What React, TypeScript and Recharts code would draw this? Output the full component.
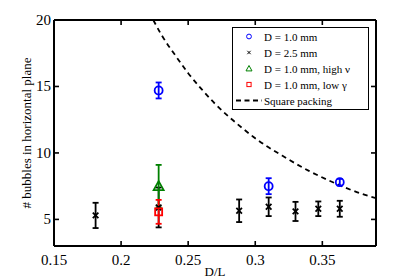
import { ComposedChart, Scatter, Line, XAxis, YAxis, ErrorBar, Legend } from 'recharts'

// D/L positions, bubble counts and their error bars
const blueX = [0.228, 0.31, 0.363]
const blueY = [14.7, 7.5, 7.8]
const blueErr = [0.6, 0.6, 0.25]

const blackX = [0.181, 0.228, 0.288, 0.31, 0.33, 0.347, 0.363]
const blackY = [5.3, 5.9, 5.65, 5.95, 5.6, 5.8, 5.8]
const blackErr = [0.95, 1.5, 0.85, 0.7, 0.72, 0.55, 0.6]

const greenX = [0.228]
const greenY = [7.5]
const greenErr = [1.6]

const redX = [0.228]
const redY = [5.57]
const redErr = [0.9]

// square packing curve
const packX = [0.224, 0.23, 0.24, 0.25, 0.26, 0.27, 0.28, 0.29, 0.3, 0.32, 0.34, 0.36, 0.38, 0.39]
const packY = [20, 18.9, 17.4, 16, 14.8, 13.7, 12.75, 11.9, 11.1, 9.8, 8.65, 7.7, 6.9, 6.6]

const xTicks = [0.15, 0.2, 0.25, 0.3, 0.35]
const yTicks = [5, 10, 15, 20]
const legendNames = ['D = 1.0 mm', 'D = 2.5 mm', 'D = 1.0 mm, high ν', 'D = 1.0 mm, low γ', 'Square packing']

const BLUE = '#0000ff'
const GREEN = '#008000'
const RED = '#ff0000'
const FONT = 'Liberation Serif, Times New Roman, serif'
const SW = 1.8

const toRows = (xs: number[], ys: number[], errs: number[]) =>
  xs.map((x, i) => ({ x, y: ys[i], err: errs[i] }))

const blueData = toRows(blueX, blueY, blueErr)
const blackData = toRows(blackX, blackY, blackErr)
const greenData = toRows(greenX, greenY, greenErr)
const redData = toRows(redX, redY, redErr)
const packData = packX.map((x, i) => ({ x, y: packY[i] }))

function Marker({ kind, cx, cy, s = 1, sw = SW }: { kind: string; cx: number; cy: number; s?: number; sw?: number }) {
  if (kind === 'circle') {
    return <circle cx={cx} cy={cy} r={4 * s} fill="none" stroke={BLUE} strokeWidth={sw} />
  }
  if (kind === 'x') {
    const a = 2.8 * s
    return (
      <path d={`M${cx - a},${cy - a}L${cx + a},${cy + a}M${cx - a},${cy + a}L${cx + a},${cy - a}`} stroke="#000" strokeWidth={sw} />
    )
  }
  if (kind === 'triangle') {
    const w = 5 * s
    return (
      <path d={`M${cx},${cy - w}L${cx + w},${cy + w * 0.8}L${cx - w},${cy + w * 0.8}Z`} fill="none" stroke={GREEN} strokeWidth={sw} />
    )
  }
  const h = 3.5 * s
  return <rect x={cx - h} y={cy - h} width={2 * h} height={2 * h} fill="none" stroke={RED} strokeWidth={sw} />
}

const kinds = ['circle', 'x', 'triangle', 'square']

// inward ticks, MATLAB style; tickSize/tickMargin are 0 so x,y sit on the axis line
const TICK = 5
const BottomTick = ({ x, y, payload }: any) => (
  <g>
    <line x1={x} x2={x} y1={y} y2={y - TICK} stroke="#000" strokeWidth={1.6} />
    <text x={x} y={y + 19} textAnchor="middle" fontSize={15} fill="#000" style={{ fontFamily: FONT }}>
      {payload.value}
    </text>
  </g>
)
const TopTick = ({ x, y }: any) => <line x1={x} x2={x} y1={y} y2={y + TICK} stroke="#000" strokeWidth={1.6} />
const LeftTick = ({ x, y, payload }: any) => (
  <g>
    <line x1={x} x2={x + TICK} y1={y} y2={y} stroke="#000" strokeWidth={1.6} />
    <text x={x - 3} y={y + 5} textAnchor="end" fontSize={15} fill="#000" style={{ fontFamily: FONT }}>
      {payload.value}
    </text>
  </g>
)
const RightTick = ({ x, y }: any) => <line x1={x} x2={x - TICK} y1={y} y2={y} stroke="#000" strokeWidth={1.6} />

function LegendBox() {
  return (
    <svg width={137} height={83} style={{ display: 'block' }}>
      <rect x={0.5} y={0.5} width={136} height={82} fill="#fff" stroke="#000" strokeWidth={1} />
      {legendNames.map((name, i) => {
        const cy = 9.5 + i * 16
        return (
          <g key={name}>
            {i < 4 ? (
              <Marker kind={kinds[i]} cx={17} cy={cy} s={0.6} sw={1} />
            ) : (
              <line x1={4} x2={30} y1={cy} y2={cy} stroke="#000" strokeWidth={1.8} strokeDasharray="5 3.5" />
            )}
            <text x={32} y={cy + 4} fill="#000" style={{ fontSize: 11, fontFamily: FONT }}>
              {name}
            </text>
          </g>
        )
      })}
    </svg>
  )
}

export default function App() {
  const axisProps = {
    stroke: '#000',
    strokeWidth: 2,
    tickSize: 0,
    tickMargin: 0,
    tickLine: false,
    type: 'number' as const,
    allowDataOverflow: true,
  }
  return (
    <div style={{ position: 'absolute', left: 0, top: 0, background: '#fff' }}>
      <ComposedChart width={415} height={278} margin={{ top: 0, right: 0, bottom: 0, left: 0 }}>
        <XAxis
          {...axisProps}
          dataKey="x"
          domain={[0.15, 0.39]}
          ticks={xTicks}
          height={32}
          tick={BottomTick}
          label={{ value: 'D/L', position: 'insideBottom', offset: 2, fill: '#000', fontSize: 13, style: { fontFamily: FONT } }}
        />
        <XAxis
          {...axisProps}
          xAxisId="top"
          orientation="top"
          dataKey="x"
          domain={[0.15, 0.39]}
          ticks={xTicks}
          height={20}
          tick={TopTick}
        />
        <YAxis
          {...axisProps}
          dataKey="y"
          domain={[3, 20]}
          ticks={yTicks}
          width={54}
          tick={LeftTick}
          label={{
            value: '# bubbles in horizontal plane',
            angle: -90,
            position: 'insideLeft',
            offset: 26,
            fill: '#000',
            fontSize: 13,
            style: { textAnchor: 'middle', fontFamily: FONT },
          }}
        />
        <YAxis
          {...axisProps}
          yAxisId="r"
          orientation="right"
          dataKey="y"
          domain={[3, 20]}
          ticks={yTicks}
          width={39}
          tick={RightTick}
        />
        <Legend
          layout="vertical"
          align="center"
          verticalAlign="middle"
          wrapperStyle={{ left: 232, top: 27 }}
          content={() => <LegendBox />}
        />
        {/* curve is bound to the top/right axes (same domains) so those axes get their ticks */}
        <Line
          xAxisId="top"
          yAxisId="r"
          data={packData}
          dataKey="y"
          type="monotone"
          stroke="#000"
          strokeWidth={1.8}
          strokeDasharray="5 4"
          dot={false}
          activeDot={false}
          legendType="none"
          isAnimationActive={false}
        />
        <Scatter data={blueData} shape={(p: any) => <Marker kind="circle" cx={p.cx} cy={p.cy} />} isAnimationActive={false}>
          <ErrorBar dataKey="err" direction="y" width={3} stroke={BLUE} strokeWidth={SW} />
        </Scatter>
        <Scatter data={blackData} shape={(p: any) => <Marker kind="x" cx={p.cx} cy={p.cy} />} isAnimationActive={false}>
          <ErrorBar dataKey="err" direction="y" width={3} stroke="#000" strokeWidth={SW} />
        </Scatter>
        <Scatter data={greenData} shape={(p: any) => <Marker kind="triangle" cx={p.cx} cy={p.cy} />} isAnimationActive={false}>
          <ErrorBar dataKey="err" direction="y" width={3} stroke={GREEN} strokeWidth={SW} />
        </Scatter>
        <Scatter data={redData} shape={(p: any) => <Marker kind="square" cx={p.cx} cy={p.cy} />} isAnimationActive={false}>
          <ErrorBar dataKey="err" direction="y" width={3} stroke={RED} strokeWidth={SW} />
        </Scatter>
      </ComposedChart>
    </div>
  )
}
